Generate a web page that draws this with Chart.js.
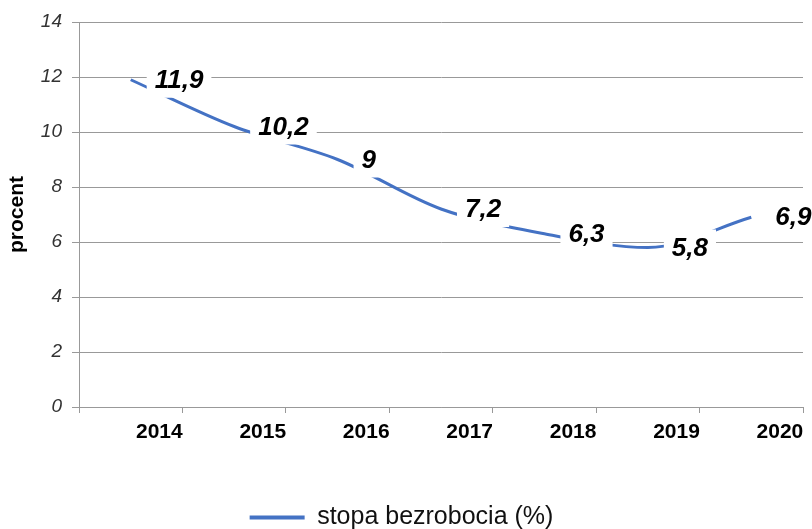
<!DOCTYPE html>
<html>
<head>
<meta charset="utf-8">
<script src="https://cdn.jsdelivr.net/npm/chart.js@4/dist/chart.umd.min.js"></script>
<style>
  html, body { margin: 0; padding: 0; background: #fff; }
  #wrap { width: 812px; height: 529px; }
</style>
</head>
<body>
<div id="wrap"><canvas id="chart" width="812" height="529"></canvas></div>
<script>
// dane: stopa bezrobocia
const years = ['2014', '2015', '2016', '2017', '2018', '2019', '2020'];
const unemployment = [11.9, 10.2, 9, 7.2, 6.3, 5.8, 6.9];
const yTicks = [0, 2, 4, 6, 8, 10, 12, 14];

const FONT = '"Liberation Sans", Arial, sans-serif';
const LINE_BLUE = '#4472C4';

// etykiety danych z białym tłem, po prawej stronie punktu
const valueLabels = {
    id: 'valueLabels',
    afterDatasetsDraw(chart) {
        const ctx = chart.ctx;
        const meta = chart.getDatasetMeta(0);
        ctx.save();
        ctx.font = 'italic bold 26px ' + FONT;
        ctx.textBaseline = 'middle';
        ctx.textAlign = 'left';
        meta.data.forEach((pt, i) => {
            const text = String(unemployment[i]).replace('.', ',');
            const w = ctx.measureText(text).width;
            ctx.fillStyle = '#ffffff';
            ctx.fillRect(pt.x + 16, pt.y - 18, w + 16, 36);
            ctx.fillStyle = '#000000';
            ctx.fillText(text, pt.x + 24, pt.y + 1);
        });
        ctx.restore();
    }
};

const chart = new Chart(document.getElementById('chart').getContext('2d'), {
    type: 'line',
    data: {
        labels: years,
        datasets: [{
            label: 'stopa bezrobocia (%)',
            data: unemployment,
            borderColor: LINE_BLUE,
            backgroundColor: LINE_BLUE,
            borderWidth: 3,
            pointRadius: 0,
            cubicInterpolationMode: 'monotone',
            fill: false
        }]
    },
    options: {
        responsive: false,
        animation: false,
        layout: {
            padding: { left: 0, right: 9, top: 22, bottom: -11 }
        },
        plugins: {
            legend: {
                position: 'bottom',
                labels: {
                    boxWidth: 55,
                    boxHeight: 4,
                    padding: 4,
                    color: '#111',
                    font: { family: FONT, size: 25 },
                    generateLabels(chart) {
                        const ds = chart.data.datasets[0];
                        return [{
                            text: ds.label,
                            fillStyle: LINE_BLUE,
                            strokeStyle: LINE_BLUE,
                            lineWidth: 0,
                            fontColor: '#111',
                            datasetIndex: 0
                        }];
                    }
                }
            },
            tooltip: { enabled: false }
        },
        scales: {
            x: {
                type: 'category',
                offset: true,
                afterFit(scale) { scale.height = 94; },
                grid: {
                    offset: true,
                    drawOnChartArea: false,
                    tickLength: 6,
                    color: '#999'
                },
                border: { color: '#999', width: 1 },
                ticks: {
                    align: 'end',
                    labelOffset: 52,
                    padding: 7,
                    maxRotation: 0,
                    color: '#000',
                    font: { family: FONT, size: 21, weight: 'bold' }
                }
            },
            y: {
                min: 0,
                max: 14,
                afterFit(scale) { scale.width = 79; },
                afterBuildTicks(scale) { scale.ticks = yTicks.map(v => ({ value: v })); },
                grid: {
                    color: '#999',
                    tickLength: 7
                },
                border: { color: '#999', width: 1 },
                ticks: {
                    padding: 10,
                    color: '#333',
                    font: { family: FONT, size: 19, style: 'italic' }
                },
                title: {
                    display: true,
                    text: 'procent',
                    color: '#000',
                    padding: { top: 5, bottom: 0 },
                    font: { family: FONT, size: 21, weight: 'bold' }
                }
            }
        }
    },
    plugins: [valueLabels]
});
</script>
</body>
</html>
